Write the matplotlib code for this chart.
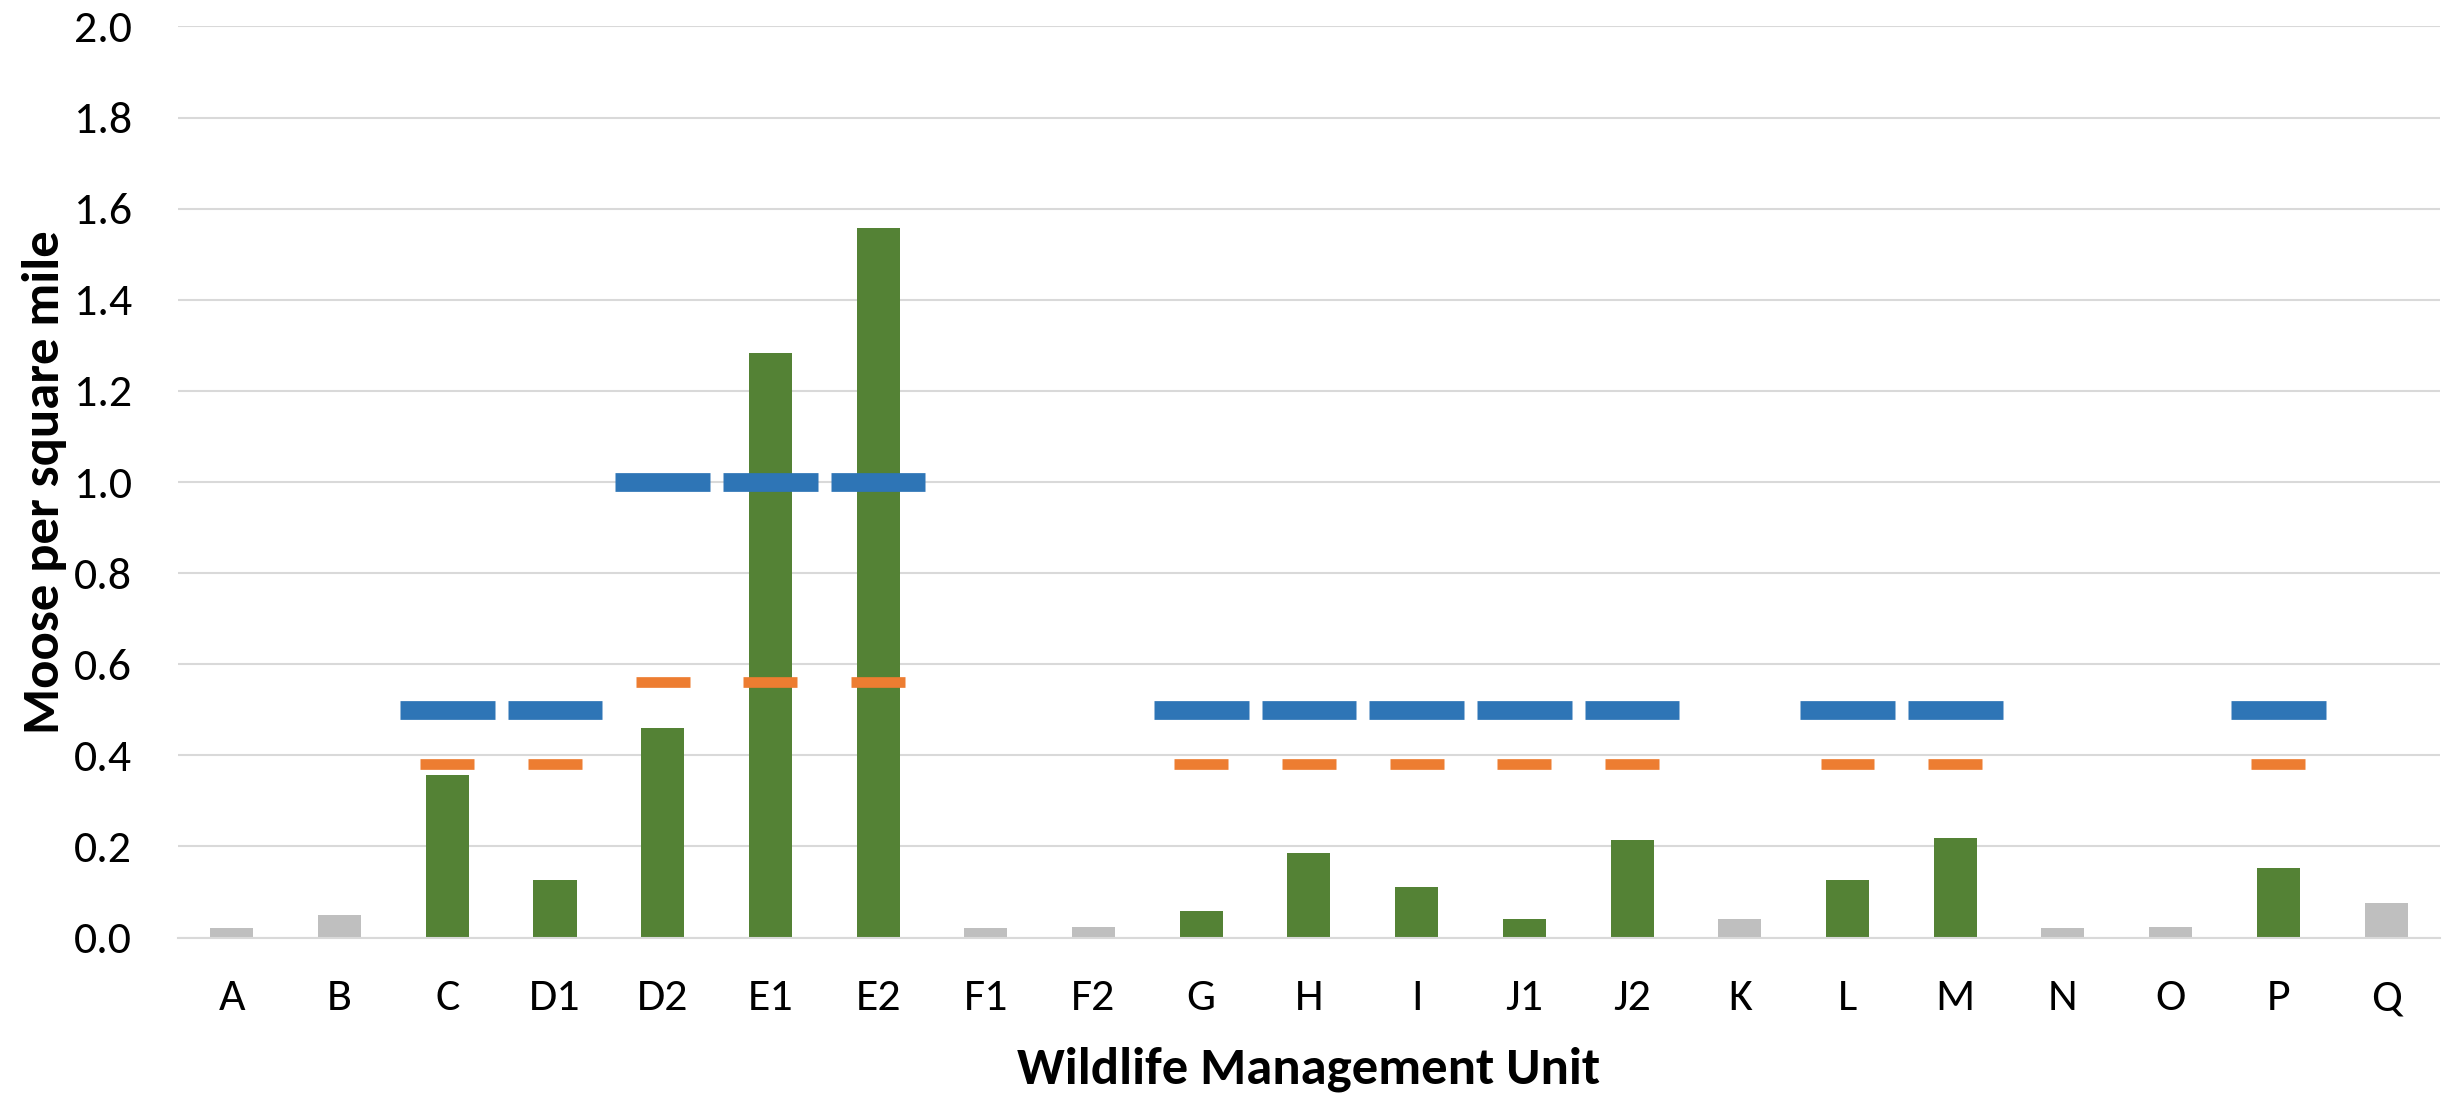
import matplotlib
matplotlib.use("Agg")
import matplotlib.pyplot as plt
import numpy as np

# Moose density by wildlife management unit, with population objectives
units = ["A", "B", "C", "D1", "D2", "E1", "E2", "F1", "F2", "G", "H",
         "I", "J1", "J2", "K", "L", "M", "N", "O", "P", "Q"]
density = [0.02, 0.05, 0.357, 0.126, 0.46, 1.283, 1.557, 0.02, 0.024, 0.058, 0.186,
           0.112, 0.04, 0.215, 0.04, 0.127, 0.218, 0.02, 0.024, 0.152, 0.075]
# units with a management objective are drawn green, the rest grey
managed = [False, False, True, True, True, True, True, False, False, True, True,
           True, True, True, False, True, True, False, False, True, False]
objective_high = [None, None, 0.5, 0.5, 1.0, 1.0, 1.0, None, None, 0.5, 0.5,
                  0.5, 0.5, 0.5, None, 0.5, 0.5, None, None, 0.5, None]
objective_low = [None, None, 0.38, 0.38, 0.56, 0.56, 0.56, None, None, 0.38, 0.38,
                 0.38, 0.38, 0.38, None, 0.38, 0.38, None, None, 0.38, None]

GREEN = "#548235"
GREY = "#BFBFBF"
BLUE = "#2E75B6"
ORANGE = "#ED7D31"
GRID = "#D9D9D9"

plt.rcParams["font.family"] = ["Carlito", "DejaVu Sans"]

fig = plt.figure(figsize=(24.48, 10.95), dpi=100)
ax = fig.add_axes([0.0727, 0.1438, 0.924, 0.832])

x = np.arange(len(units))
colors = [GREEN if m else GREY for m in managed]
ax.bar(x, density, width=0.40, color=colors, zorder=2)


def _dashes(values, width, lw, color):
    xs = np.array([i for i, v in enumerate(values) if v is not None], dtype=float)
    ys = np.array([v for v in values if v is not None], dtype=float)
    ax.hlines(ys, xs - width / 2, xs + width / 2, colors=color,
              linewidth=lw, capstyle="butt", zorder=3)


_dashes(objective_high, 0.88, 13.5, BLUE)
_dashes(objective_low, 0.50, 7.7, ORANGE)

ax.set_xlim(-0.5, len(units) - 0.5)
ax.set_ylim(0, 2.0)
yt = np.arange(0, 2.01, 0.2)
ax.set_yticks(yt)
ax.set_yticklabels([f"{v:.1f}" for v in yt])
ax.set_xticks(x)
ax.set_xticklabels(units)
ax.tick_params(axis="both", length=0, labelsize=33, colors="black")
ax.tick_params(axis="x", pad=30)
ax.tick_params(axis="y", pad=33)
ax.grid(True, axis="y", color=GRID, linewidth=1.5, zorder=0)
ax.set_axisbelow(True)
for side in ("top", "right", "left"):
    ax.spines[side].set_visible(False)
ax.spines["bottom"].set_color(GRID)
ax.spines["bottom"].set_linewidth(1.5)

ax.set_xlabel("Wildlife Management Unit", fontsize=38, fontweight="bold", labelpad=21)
ax.set_ylabel("Moose per square mile", fontsize=38, fontweight="bold", labelpad=5)

fig.savefig("out.png", dpi=100, facecolor="white")
